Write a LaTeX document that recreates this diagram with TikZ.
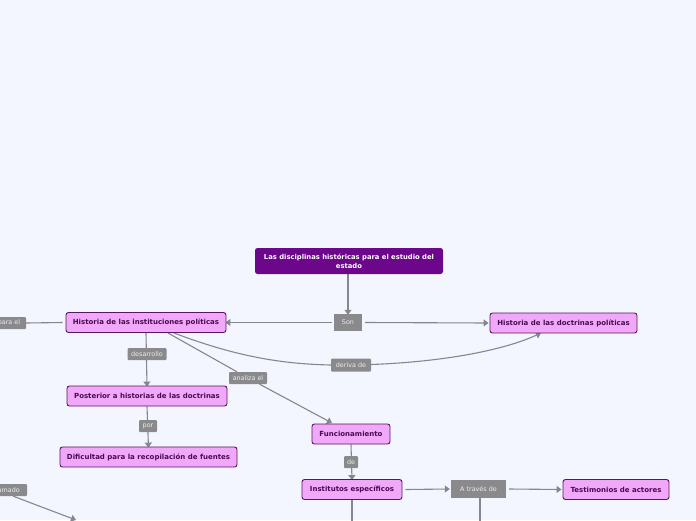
\documentclass[tikz,border=0pt]{standalone}
\usepackage{fontspec}
\setmainfont{DejaVu Sans}
\usetikzlibrary{arrows.meta}
\definecolor{bgc}{RGB}{243,246,254}
\definecolor{rootc}{RGB}{108,6,138}
\definecolor{pinkc}{RGB}{242,168,248}
\definecolor{borderc}{RGB}{88,22,102}
\definecolor{textc}{RGB}{72,10,84}
\definecolor{labgrey}{RGB}{138,138,140}
\definecolor{labtext}{RGB}{236,236,240}
\definecolor{linec}{RGB}{134,134,142}
\pgfdeclarelayer{bgfill}
\pgfdeclarelayer{bg}
\pgfsetlayers{bgfill,bg,main}
\tikzset{
  box/.style={draw=borderc, fill=pinkc, rounded corners=2.5pt, line width=0.9pt,
    font=\fontsize{7}{8}\selectfont\bfseries, text=textc, minimum height=20pt, inner sep=0pt},
  rootbox/.style={fill=rootc, rounded corners=2.5pt, text=white, align=center,
    font=\fontsize{6.8}{9}\selectfont\bfseries, minimum height=26pt, inner sep=0pt},
  lab/.style={fill=labgrey, text=labtext, font=\fontsize{6.4}{7}\selectfont,
    inner sep=0pt, minimum height=12pt, rounded corners=1pt},
  conn/.style={draw=linec, line width=1.1pt},
  arr/.style={conn, -{Triangle[length=5pt,width=7pt]}}
}
\begin{document}
\begin{tikzpicture}[x=1pt,y=-1pt]
\begin{pgfonlayer}{bgfill}
\fill[bgc] (0,0) rectangle (696,520);
\end{pgfonlayer}
\useasboundingbox (0,0) rectangle (696,520);

\node[rootbox, minimum width=188pt] (root) at (349,261)
  {Las disciplinas históricas para el estudio del\\estado};
\node[lab, minimum width=28pt, minimum height=17pt, rounded corners=0pt] (son) at (348,322.5) {Son};
\node[box, minimum width=160pt] (hinst) at (146,322.5) {Historia de las instituciones políticas};
\node[box, minimum width=147pt] (hdoc) at (563.5,323) {Historia de las doctrinas políticas};
\node[lab, minimum width=34pt] (parael) at (9,323) {para el};
\node[lab, minimum width=39pt] (desarrollo) at (147,354) {desarrollo};
\node[box, minimum width=160pt] (post) at (147,396) {Posterior a historias de las doctrinas};
\node[lab, minimum width=38pt] (analiza) at (248,378) {analiza el};
\node[lab, minimum width=40pt, minimum height=13pt] (deriva) at (351,365) {deriva de};
\node[box, minimum width=78pt] (func) at (351,434) {Funcionamiento};
\node[lab, minimum width=18pt] (por) at (148,426) {por};
\node[box, minimum width=177pt] (dif) at (148.5,457) {Dificultad para la recopilación de fuentes};
\node[lab, minimum width=14pt] (de) at (351,462) {de};
\node[box, minimum width=100pt] (inst) at (352,489.5) {Institutos específicos};
\node[lab, minimum width=55pt, minimum height=18pt, rounded corners=0pt] (atraves) at (478.5,489) {A través de};
\node[box, minimum width=106pt] (test) at (616,489.5) {Testimonios de actores};
\node[lab, minimum width=40pt] (llamado) at (7,490) {llamado};

\coordinate (llend) at (76,520);
\coordinate (instdown) at (352,521);
\coordinate (atdown) at (480,521);
\coordinate (hstart1) at (168,333);
\coordinate (hstart2) at (174,333);
\coordinate (docend) at (541,333);
\coordinate (fn) at (332,423);

\begin{pgfonlayer}{bg}
\draw[arr] (root.south -| son.north) -- ([yshift=-1pt]son.north);
\draw[arr] ([xshift=-2pt]son.west) -- ([xshift=-1pt]hinst.east);
\draw[arr] ([xshift=3pt]son.east) -- ([xshift=-1pt]hdoc.west);
\draw[conn] (parael.east) -- ([xshift=-3pt]hinst.west);
\draw[arr] (hinst.south) -- ([yshift=-1pt]post.north);
\draw[conn] (hstart1) -- (analiza);
\draw[arr] (analiza) -- (fn);
\draw[conn] (hstart2) .. controls (240,358) and (290,366) .. (deriva.center);
\draw[arr] (deriva.center) .. controls (430,364) and (500,352) .. (docend);
\draw[arr] (post.south) -- ([yshift=-1pt]dif.north);
\draw[arr] (func.south) -- ([yshift=-1pt]inst.north);
\draw[arr] ([xshift=3pt]inst.east) -- ([xshift=-1pt]atraves.west);
\draw[arr] ([xshift=3pt]atraves.east) -- ([xshift=-1pt]test.west);
\draw[arr] ([xshift=-14pt]llamado.south east) -- (llend);
\draw[conn] (inst.south) -- (instdown);
\draw[conn] (atraves.south -| atdown) -- (atdown);
\end{pgfonlayer}
\end{tikzpicture}
\end{document}
